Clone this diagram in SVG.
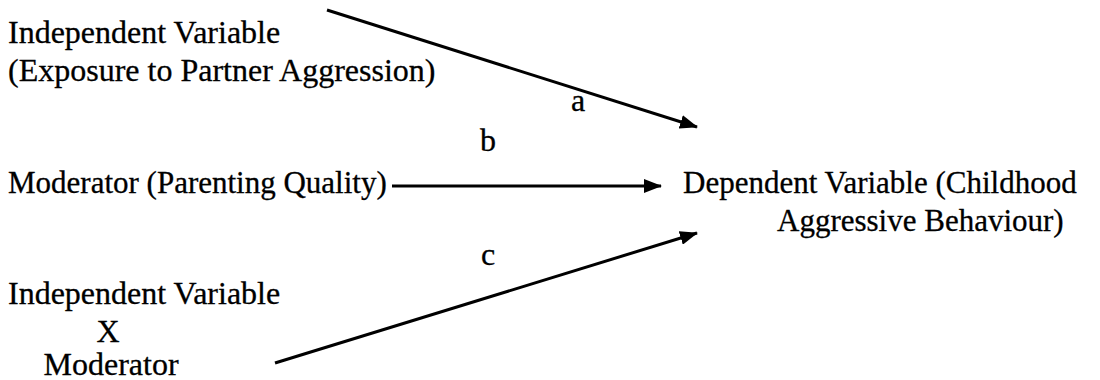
<svg xmlns="http://www.w3.org/2000/svg" width="1100" height="380" viewBox="0 0 1100 380">
  <style>
    .t { font-family: 'Liberation Serif', 'Times New Roman', Times, 'DejaVu Serif', serif; font-size: 32px; fill: #000; stroke: #000; stroke-width: 0.3px; }
    .s { font-size: 31px; }
    .c { stroke: #000; stroke-width: 3; fill: none; }
  </style>
  <defs>
    <marker id="ah" viewBox="0 0 18 14" refX="17" refY="7" markerWidth="18" markerHeight="14" markerUnits="userSpaceOnUse" orient="auto">
      <path d="M0,0 L18,7 L0,14 z" fill="#000"/>
    </marker>
  </defs>
  <rect width="1100" height="380" fill="#fff"/>
  <g id="connectors">
    <line class="c" x1="327" y1="10" x2="697" y2="127" marker-end="url(#ah)"/>
    <line class="c" x1="392" y1="186" x2="661" y2="186" marker-end="url(#ah)"/>
    <line class="c" x1="275" y1="363" x2="697" y2="233" marker-end="url(#ah)"/>
    <text class="t" x="571" y="111">a</text>
    <text class="t" x="480" y="151">b</text>
    <text class="t" x="481" y="265">c</text>
  </g>
  <g id="iv">
    <text class="t" x="8" y="43">Independent Variable</text>
    <text class="t" x="8" y="81">(Exposure to Partner Aggression)</text>
  </g>
  <g id="moderator">
    <text class="t s" x="8" y="193">Moderator (Parenting Quality)</text>
  </g>
  <g id="interaction">
    <text class="t" x="8" y="304">Independent Variable</text>
    <text class="t" x="108" y="342" text-anchor="middle">X</text>
    <text class="t" x="111" y="375" text-anchor="middle">Moderator</text>
  </g>
  <g id="dv">
    <text class="t s" x="683" y="193">Dependent Variable (Childhood</text>
    <text class="t s" x="777" y="231">Aggressive Behaviour)</text>
  </g>
</svg>
